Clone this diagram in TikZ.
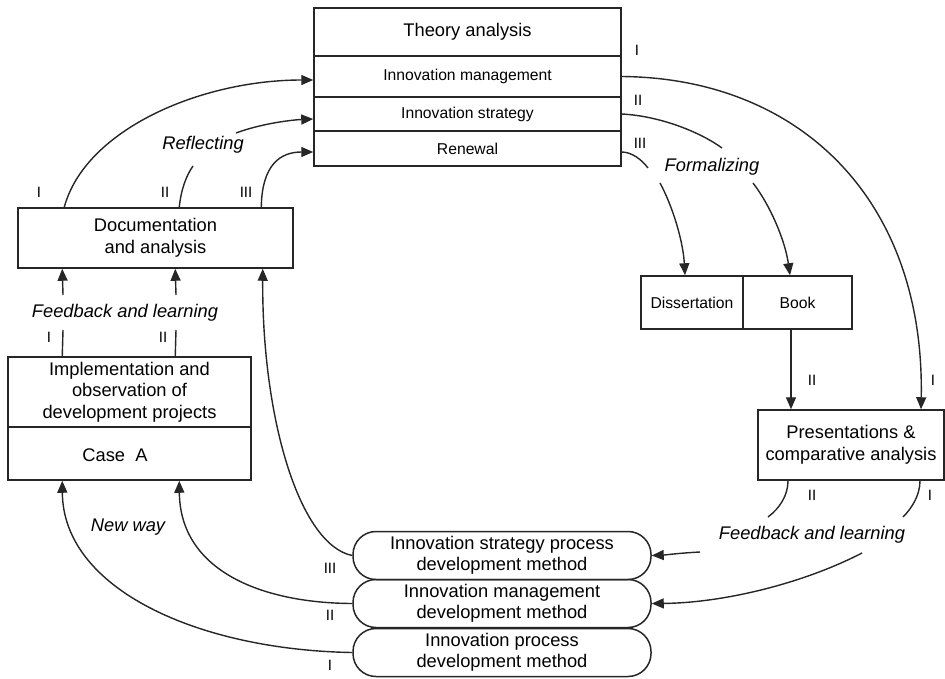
\documentclass[tikz,border=0pt]{standalone}
\usepackage{fontspec}
\setmainfont{Liberation Sans}
\usetikzlibrary{arrows.meta,calc}
\begin{document}
\begin{tikzpicture}[x=1pt,y=-1pt,
  box/.style={draw=black!85, line width=1.5pt, inner sep=0pt, align=center,
    font=\fontsize{18.3}{21.5}\selectfont},
  subbox/.style={box, font=\fontsize{15.7}{18}\selectfont},
  method/.style={box, rounded corners=23pt, minimum width=298pt, minimum height=48pt},
  link/.style={draw=black!85, line width=1.4pt},
  arr/.style={link, -{Triangle[length=12pt,width=10pt]}},
  tag/.style={font=\fontsize{18.3}{21.5}\selectfont\itshape, inner sep=0pt},
  num/.style={font=\fontsize{15}{18}\selectfont, inner sep=0pt},
]
\useasboundingbox (0,0) rectangle (945,678);

% Theory analysis block with its three topics
\node[box, minimum width=307pt, minimum height=48pt] (theory) at (467.5,32) {Theory analysis};
\node[subbox, minimum width=307pt, minimum height=41pt] (mgmt) at (467.5,76.5) {Innovation management};
\node[subbox, minimum width=307pt, minimum height=34pt] (strat) at (467.5,114) {Innovation strategy};
\node[subbox, minimum width=307pt, minimum height=35pt] (renew) at (467.5,148.5) {Renewal};

% Documentation
\node[box, minimum width=275pt, minimum height=60pt] (doc) at (155.5,238) {Documentation\\and analysis};

% Implementation / case
\node[box, minimum width=243pt, minimum height=70pt] (impl) at (129.5,392)
  {Implementation and\\observation of\\development projects};
\node[box, minimum width=243pt, minimum height=53pt] (casea) at (129.5,453.5) {};
\node[box, draw=none] (casetext) at (115,455) {Case~~A};

% Publications
\node[subbox, minimum width=102pt, minimum height=53pt] (diss) at (692,302.5) {Dissertation};
\node[subbox, minimum width=109pt, minimum height=53pt] (book) at (797.5,302.5) {Book};

% Presentations
\node[box, minimum width=186pt, minimum height=70pt] (pres) at (851,445) {Presentations \&\\comparative analysis};

% Development methods
\node[method] (m1) at (502,555.5) {Innovation strategy process\\development method};
\node[method] (m2) at (502,603.5) {Innovation management\\development method};
\node[method] (m3) at (502,652.5) {Innovation process\\development method};

% Reflecting: documentation -> theory
\draw[arr] ($(doc.north west)+(47,0)$) .. controls (85,130) and (200,80) .. ($(mgmt.west)+(0,3.5)$);
\coordinate (r2a) at (193,166);
\coordinate (r2b) at (236,133);
\draw[link] ($(doc.north west)+(162,0)$) .. controls (181,190) and (186,176) .. (r2a);
\draw[arr] (r2b) .. controls (260,124) and (290,120) .. ($(strat.west)+(0,5)$);
\draw[arr] ($(doc.north west)+(244,0)$) .. controls (262,165) and (280,152) .. ($(renew.west)+(0,3.5)$);
\node[num] (n1) at (39,192) {I};
\node[num] (n2) at (165,192) {II};
\node[num] (n3) at (246,192) {III};
\node[tag] (reflect) at (203,145) {Reflecting};

% Feedback: implementation -> documentation
\coordinate (f1a) at (63,330);
\coordinate (f1b) at (63,295);
\coordinate (f2a) at (176,330);
\coordinate (f2b) at (176,295);
\draw[link] ($(impl.north west)+(55,0)$) -- (f1a);
\draw[arr] (f1b) -- ($(doc.south west)+(45,0)$);
\draw[link] ($(impl.north west)+(168,0)$) -- (f2a);
\draw[arr] (f2b) -- ($(doc.south west)+(158,0)$);
\node[tag] (fbl) at (125,313) {Feedback and learning};
\node[num] (n4) at (49,337) {I};
\node[num] (n5) at (163,337) {II};

% New way: methods -> cases and documentation
\draw[arr] (m1.west) .. controls (300,545) and (262,420) .. ($(doc.south east)+(-31,0)$);
\draw[arr] (m2.west) .. controls (260,603) and (180,570) .. ($(casea.south west)+(172,0)$);
\draw[arr] (m3.west) .. controls (200,650) and (63,590) .. ($(casea.south west)+(55,0)$);
\node[num] (n6) at (330,568) {III};
\node[num] (n7) at (330,615) {II};
\node[num] (n8) at (330,665) {I};
\node[tag] (newway) at (128,527) {New way};

% Formalizing: theory -> publications and presentations
\draw[arr] (mgmt.east) .. controls (800,78) and (925,200) .. ($(pres.north)+(70,0)$);
\coordinate (s1) at (722,148);
\coordinate (s2) at (753,183);
\draw[link] (strat.east) .. controls (660,116) and (700,132) .. (s1);
\draw[arr] (s2) .. controls (770,205) and (785,240) .. ($(book.north)+(-7.5,0)$);
\coordinate (t1) at (648,168);
\coordinate (t2) at (660,183);
\draw[link] ($(renew.east)+(0,3.5)$) .. controls (632,152) and (642,160) .. (t1);
\draw[arr] (t2) .. controls (672,205) and (683,240) .. ($(diss.north)+(-7,0)$);
\node[num] (n9) at (637,50) {I};
\node[num] (n10) at (638,100) {II};
\node[num] (n11) at (640,143) {III};
\node[tag] (formal) at (712,167) {Formalizing};

% Book -> presentations
\draw[arr] ($(book.south)+(-6.5,0)$) -- ($(pres.north)+(-60,0)$);
\node[num] (n12) at (812,380) {II};
\node[num] (n13) at (933,380) {I};

% Feedback: presentations -> methods
\coordinate (p1) at (768,517);
\coordinate (p2) at (903,517);
\coordinate (p3) at (700,552);
\coordinate (p4) at (862,553);
\draw[link] ($(pres.south)+(-63,0)$) .. controls (788,495) and (780,508) .. (p1);
\draw[link] ($(pres.south)+(69,0)$) .. controls (920,495) and (912,508) .. (p2);
\draw[arr] (p3) .. controls (680,553) and (665,555) .. (m1.east);
\draw[arr] (p4) .. controls (800,585) and (720,603) .. (m2.east);
\node[num] (n14) at (812,495) {II};
\node[num] (n15) at (930,495) {I};
\node[tag] (fbl2) at (812,535) {Feedback and learning};
\end{tikzpicture}
\end{document}
